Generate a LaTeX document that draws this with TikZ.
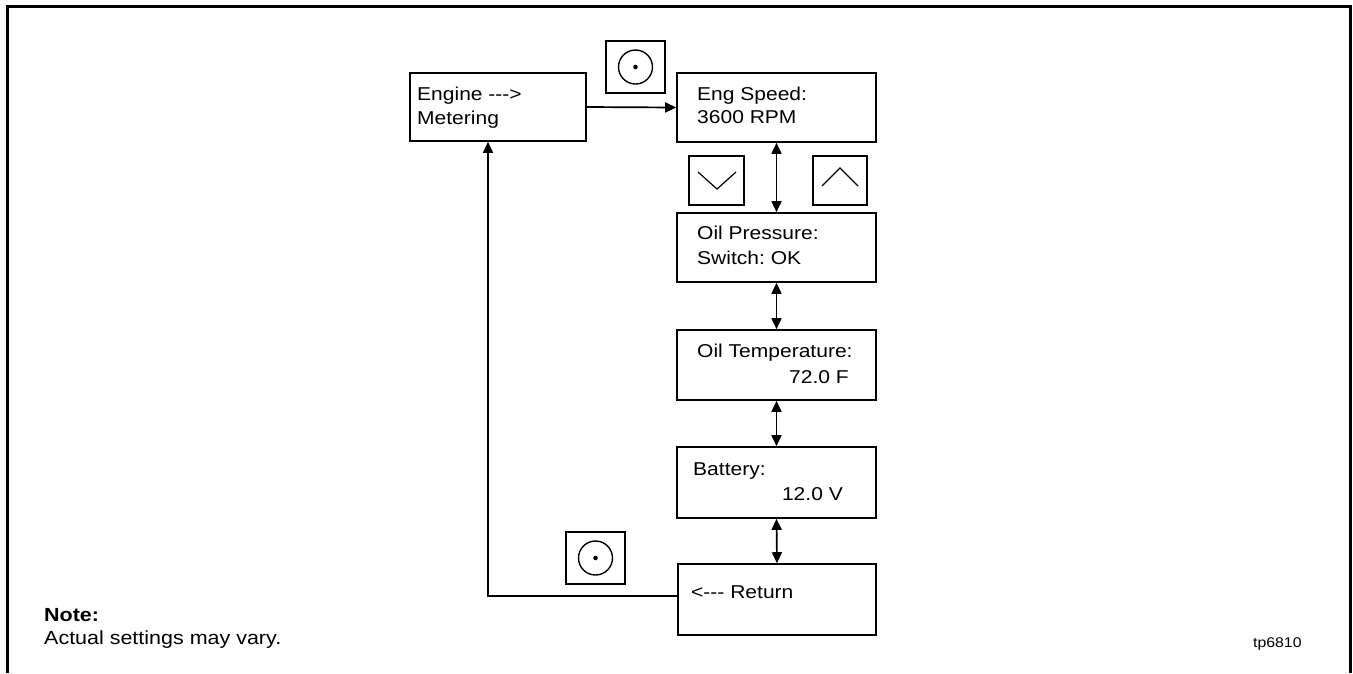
\documentclass[tikz,border=0pt]{standalone}
\usepackage{fontspec}
\setmainfont{Liberation Sans}[FakeStretch=1.13,Ligatures=TeXOff]
\usetikzlibrary{arrows.meta}
\frenchspacing
\begin{document}
\begin{tikzpicture}[x=1pt,y=-1pt,
  boxnode/.style={draw,line width=1.6pt,rectangle,inner sep=0pt},
  txt/.style={inner sep=0pt,font=\fontsize{18.6}{22}\selectfont},
  conn/.style={line width=1.7pt,-{Triangle[length=11pt,width=10pt]}},
  dconn/.style={line width=1.7pt,{Triangle[length=11pt,width=10pt]}-{Triangle[length=11pt,width=10pt]}},
  iconbox/.style={draw,line width=1.6pt,rectangle,inner sep=0pt,minimum width=59pt,minimum height=52pt},
  chev/.style={line width=1.2pt}
]
\useasboundingbox (0,0) rectangle (1353,673);
% outer frame (open at bottom)
\draw[line width=3pt] (7,673) -- (7,6) -- (1350,6) -- (1350,673);

% boxes
\node[boxnode,minimum width=176pt,minimum height=68pt] (eng) at (498,107) {};
\node[boxnode,minimum width=199pt,minimum height=69pt] (speed) at (776.5,107.5) {};
\node[boxnode,minimum width=199pt,minimum height=69pt] (oilp) at (776.5,247.5) {};
\node[boxnode,minimum width=199pt,minimum height=70pt] (oilt) at (776.5,365) {};
\node[boxnode,minimum width=199pt,minimum height=71pt] (batt) at (776.5,482.5) {};
\node[boxnode,minimum width=198pt,minimum height=71pt] (ret) at (777,599.5) {};

% texts
\node[txt,anchor=base west] (t1a) at (417,100) {Engine {-}{-}{-}>};
\node[txt,anchor=base west] (t1b) at (417,124) {Metering};
\node[txt,anchor=base west] (t2a) at (697,100) {Eng Speed:};
\node[txt,anchor=base west] (t2b) at (697,123) {3600 RPM};
\node[txt,anchor=base west] (t3a) at (697,239) {Oil Pressure:};
\node[txt,anchor=base west] (t3b) at (697,264) {Switch: OK};
\node[txt,anchor=base west] (t4a) at (697,357) {Oil Temperature:};
\node[txt,anchor=base east] (t4b) at (849,383) {72.0 F};
\node[txt,anchor=base west] (t5a) at (693,475) {Battery:};
\node[txt,anchor=base east] (t5b) at (843,500) {12.0 V};
\node[txt,anchor=base west] (t6a) at (691,598) {<{-}{-}{-} Return};

% icons
\node[iconbox] (sel1) at (635.5,67) {};
\draw[line width=1.4pt] (sel1.center) circle (17pt);
\fill (sel1.center) circle (2.3pt);
\node[iconbox,minimum width=55pt,minimum height=49pt] (down) at (716.5,180.5) {};
\draw[chev] (698,172) -- (717,189) -- (736,172);
\node[iconbox,minimum width=54pt,minimum height=49pt] (up) at (840,180.5) {};
\draw[chev] (822,186) -- (840,168) -- (858,186);
\node[iconbox] (sel2) at (595.5,558) {};
\draw[line width=1.4pt] (sel2.center) circle (17pt);
\fill (sel2.center) circle (2.3pt);

% connectors
\draw[conn] (eng.east) -- (speed.west);
\draw[dconn] (speed.south) -- (oilp.north);
\draw[dconn] (oilp.south) -- (oilt.north);
\draw[dconn] (oilt.south) -- (batt.north);
\draw[dconn] (batt.south) -- (ret.north);
\draw[conn] ([yshift=3.5pt]ret.west) -| ([xshift=-10pt]eng.south);

% note
\node[inner sep=0pt,anchor=base west,font=\fontsize{19}{22}\selectfont\bfseries] (note) at (44,621) {Note:};
\node[inner sep=0pt,anchor=base west,font=\fontsize{19}{22}\selectfont] (notetxt) at (44,644) {Actual settings may vary.};
\node[inner sep=0pt,anchor=base west,font=\fontsize{14}{16}\selectfont] (tp) at (1253,647) {tp6810};
\end{tikzpicture}
\end{document}
